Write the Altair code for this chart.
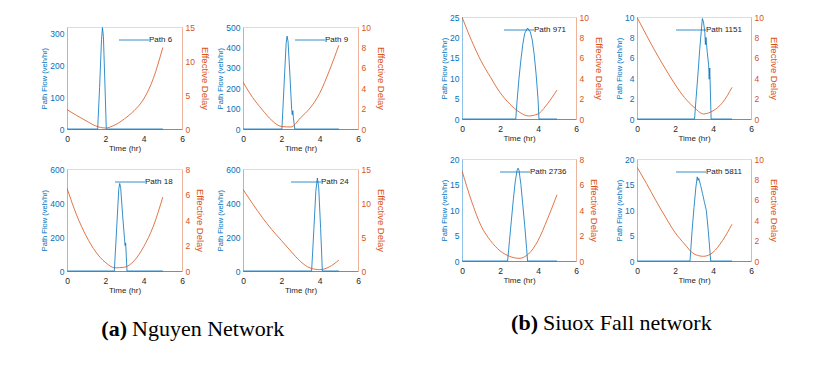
import altair as alt
import pandas as pd

BLUE = "#0072BD"
ORANGE = "#D95319"
FONT = "Liberation Sans"

X_TICKS = [0, 2, 4, 6]
DELAY_T = [0, 0.5, 1, 1.5, 2, 2.5, 3, 3.5, 4, 4.5, 5]

# ---- (a) Nguyen network ----
P6_FLOW_T = [0, 1.6, 1.7, 1.8, 1.85, 1.9, 2.0, 2.05, 5]
P6_FLOW_V = [0, 0, 130, 280, 318, 290, 100, 0, 0]
P6_DELAY = [2.85, 2.0, 1.2, 0.45, 0.15, 0.6, 1.5, 2.7, 4.4, 7.4, 12.0]

P9_FLOW_T = [0, 2.03, 2.15, 2.25, 2.3, 2.35, 2.45, 2.54, 2.57, 2.6, 2.63, 2.7, 5]
P9_FLOW_V = [0, 0, 230, 420, 455, 430, 260, 95, 70, 90, 55, 0, 0]
P9_DELAY = [4.6, 3.1, 1.9, 0.85, 0.25, 0.2, 1.1, 2.06, 3.5, 5.7, 8.2]

P18_FLOW_T = [0, 2.47, 2.6, 2.7, 2.75, 2.8, 2.9, 3.0, 3.03, 3.06, 3.13, 5]
P18_FLOW_V = [0, 0, 270, 480, 515, 490, 330, 190, 150, 165, 0, 0]
P18_DELAY = [6.5, 4.4, 2.75, 1.5, 0.68, 0.25, 0.3, 0.8, 1.9, 3.5, 5.8]

P24_FLOW_T = [0, 3.58, 3.7, 3.8, 3.88, 3.95, 4.05, 4.14, 5]
P24_FLOW_V = [0, 0, 250, 470, 547, 490, 250, 0, 0]
P24_DELAY = [12.0, 9.9, 7.9, 6.1, 4.5, 2.9, 1.4, 0.45, 0.2, 0.6, 1.6]

# ---- (b) Sioux Falls network ----
P971_FLOW_T = [0, 2.83, 2.9, 3.0, 3.1, 3.2, 3.3, 3.45, 3.6, 3.7, 3.8, 3.9, 4.0, 4.05, 5]
P971_FLOW_V = [0, 0, 4.5, 10, 14.5, 18.3, 21, 22.3, 21.3, 19.3, 15.8, 11, 5, 0, 0]
P971_DELAY = [10.0, 7.7, 5.7, 4.1, 2.6, 1.5, 0.7, 0.3, 0.5, 1.5, 2.84]

P1151_FLOW_T = [0, 3.03, 3.1, 3.2, 3.3, 3.44, 3.5, 3.57, 3.6, 3.63, 3.7, 3.77, 3.8, 3.83, 3.9, 5]
P1151_FLOW_V = [0, 0, 1.8, 4.2, 6.8, 9.85, 9.5, 8.5, 7.3, 8.0, 6.5, 5.3, 3.9, 5.0, 0, 0]
P1151_DELAY = [9.97, 8.2, 6.5, 4.9, 3.4, 2.1, 1.15, 0.5, 0.8, 1.6, 3.1]

P2736_FLOW_T = [0, 2.4, 2.5, 2.6, 2.7, 2.8, 2.9, 2.95, 3.0, 3.1, 3.2, 3.3, 3.4, 3.45, 5]
P2736_FLOW_V = [0, 0, 4, 8, 12, 15.5, 17.8, 18.2, 17.8, 15, 11, 7, 2.5, 0, 0]
P2736_DELAY = [7.08, 4.7, 2.77, 1.6, 0.8, 0.37, 0.21, 0.55, 1.6, 3.3, 5.2]

P5811_FLOW_T = [0, 2.79, 2.9, 3.0, 3.1, 3.17, 3.21, 3.25, 3.35, 3.45, 3.55, 3.65, 3.75, 3.88, 5]
P5811_FLOW_V = [0, 0, 6, 10.5, 14.5, 16.5, 15.8, 16.2, 14.8, 13.2, 11.5, 9.9, 6, 0, 0]
P5811_DELAY = [9.2, 7.6, 5.9, 4.3, 2.8, 1.67, 0.69, 0.46, 0.85, 2.0, 3.6]

CAPTION_TAGS = ["(a)", "(b)"]
CAPTION_TEXTS = ["Nguyen Network", "Siuox Fall network"]


def panel(name, ft, fv, dv, ydom, yticks, rdom, rticks, w):
    fdf = pd.DataFrame({"t": ft, "v": fv, "path": [name] * len(ft)})
    ddf = pd.DataFrame({"t": DELAY_T, "d": dv})
    xax = alt.Axis(values=X_TICKS, title="Time (hr)", labelFontSize=8.5, titleFontSize=8,
                   labelColor="#262626", titleColor="#262626", domainColor="#8a8a8a",
                   labelPadding=5, titlePadding=1.5, ticks=False, grid=False, labelFlush=False,
                   titleFontWeight="normal")
    x = alt.X("t:Q", scale=alt.Scale(domain=[0, 6], nice=False, zero=False), axis=xax)
    flow = alt.Chart(fdf).mark_line(strokeWidth=0.8).encode(
        x=x,
        y=alt.Y("v:Q", scale=alt.Scale(domain=ydom, nice=False),
                axis=alt.Axis(orient="left", values=yticks, title="Path Flow (veh/hr)",
                              labelFontSize=8.5, titleFontSize=7.5, labelColor=BLUE,
                              titleColor=BLUE, domainColor="#8ec1e8", labelPadding=3,
                              titlePadding=1, ticks=False, grid=False,
                              titleFontWeight="normal")),
        color=alt.Color("path:N", scale=alt.Scale(domain=[name], range=[BLUE]),
                        legend=alt.Legend(orient="top-right", offset=9, padding=0, title=None,
                                          symbolType="M-15,0H15", symbolSize=4,
                                          symbolStrokeWidth=0.8,
                                          symbolFillColor="transparent",
                                          labelFontSize=8, labelFont=FONT,
                                          labelColor="#222222", labelOffset=11)),
    )
    delay = alt.Chart(ddf).mark_line(color=ORANGE, strokeWidth=0.8, interpolate="monotone",
                                     clip=True).encode(
        x=x,
        y=alt.Y("d:Q", scale=alt.Scale(domain=rdom, nice=False),
                axis=alt.Axis(orient="right", values=rticks, title="Effective Delay",
                              labelFontSize=8.5, titleFontSize=9.5, labelColor=ORANGE,
                              titleColor=ORANGE, domainColor="#eeb49b", labelPadding=3,
                              titlePadding=5, ticks=False, grid=False,
                              titleFontWeight="normal")),
    )
    return alt.layer(flow, delay).resolve_scale(y="independent", color="independent").properties(
        width=w, height=102)


def caption(i, x_right, y, w):
    tag = alt.Chart(pd.DataFrame({"s": [CAPTION_TAGS[i]]})).mark_text(
        font="Liberation Serif", fontSize=22, fontWeight="bold", align="right",
        baseline="middle", color="#000000").encode(
        x=alt.value(x_right), y=alt.value(y), text="s:N")
    txt = alt.Chart(pd.DataFrame({"s": [CAPTION_TEXTS[i]]})).mark_text(
        font="Liberation Serif", fontSize=22, align="left", baseline="middle",
        color="#000000").encode(
        x=alt.value(x_right + 5), y=alt.value(y), text="s:N")
    return alt.layer(tag, txt).properties(width=w, height=34,
                                          view=alt.ViewBackground(stroke="transparent"))


p1 = panel("Path 6", P6_FLOW_T, P6_FLOW_V, P6_DELAY, [0, 320], [0, 100, 200, 300], [0, 15], [0, 5, 10, 15], 115)
p2 = panel("Path 9", P9_FLOW_T, P9_FLOW_V, P9_DELAY, [0, 500], [0, 100, 200, 300, 400, 500], [0, 10], [0, 2, 4, 6, 8, 10], 115)
p3 = panel("Path 18", P18_FLOW_T, P18_FLOW_V, P18_DELAY, [0, 600], [0, 200, 400, 600], [0, 8], [0, 2, 4, 6, 8], 115)
p4 = panel("Path 24", P24_FLOW_T, P24_FLOW_V, P24_DELAY, [0, 600], [0, 200, 400, 600], [0, 15], [0, 5, 10, 15], 115)
p5 = panel("Path 971", P971_FLOW_T, P971_FLOW_V, P971_DELAY, [0, 25], [0, 5, 10, 15, 20, 25], [0, 10], [0, 2, 4, 6, 8, 10], 114)
p6 = panel("Path 1151", P1151_FLOW_T, P1151_FLOW_V, P1151_DELAY, [0, 10], [0, 2, 4, 6, 8, 10], [0, 10], [0, 2, 4, 6, 8, 10], 114)
p7 = panel("Path 2736", P2736_FLOW_T, P2736_FLOW_V, P2736_DELAY, [0, 20], [0, 5, 10, 15, 20], [0, 8], [0, 2, 4, 6, 8], 114)
p8 = panel("Path 5811", P5811_FLOW_T, P5811_FLOW_V, P5811_DELAY, [0, 20], [0, 5, 10, 15, 20], [0, 10], [0, 2, 4, 6, 8, 10], 114)


def row(a, b):
    return alt.hconcat(a, b, spacing=61, bounds="flush").resolve_scale(color="independent")


spacer = alt.Chart(pd.DataFrame({"s": [""]})).mark_point(size=0, opacity=0, strokeWidth=0).encode(
    x=alt.value(0), y=alt.value(0)
).properties(width=1, height=4, view=alt.ViewBackground(stroke="transparent"))

groupA = alt.vconcat(row(p1, p2), row(p3, p4), caption(0, 60, 22, 200), spacing=11).resolve_scale(
    color="independent")
groupB = alt.vconcat(row(p5, p6), row(p7, p8), caption(1, 76, 26, 200), spacing=11).resolve_scale(
    color="independent")
wrapA = alt.vconcat(spacer, groupA, spacing=0.01).resolve_scale(color="independent")

chart = alt.concat(wrapA, groupB, columns=2, align="none", spacing=54).resolve_scale(
    color="independent").properties(
    padding={"left": 32, "top": 4, "right": 0, "bottom": 0}
).configure_view(stroke="#8a8a8a", strokeWidth=1).configure_axis(
    labelFont=FONT, titleFont=FONT, titleFontWeight="normal"
).configure(background="#ffffff")

chart.save("out.html", embed_options={"renderer": "svg", "actions": False})
